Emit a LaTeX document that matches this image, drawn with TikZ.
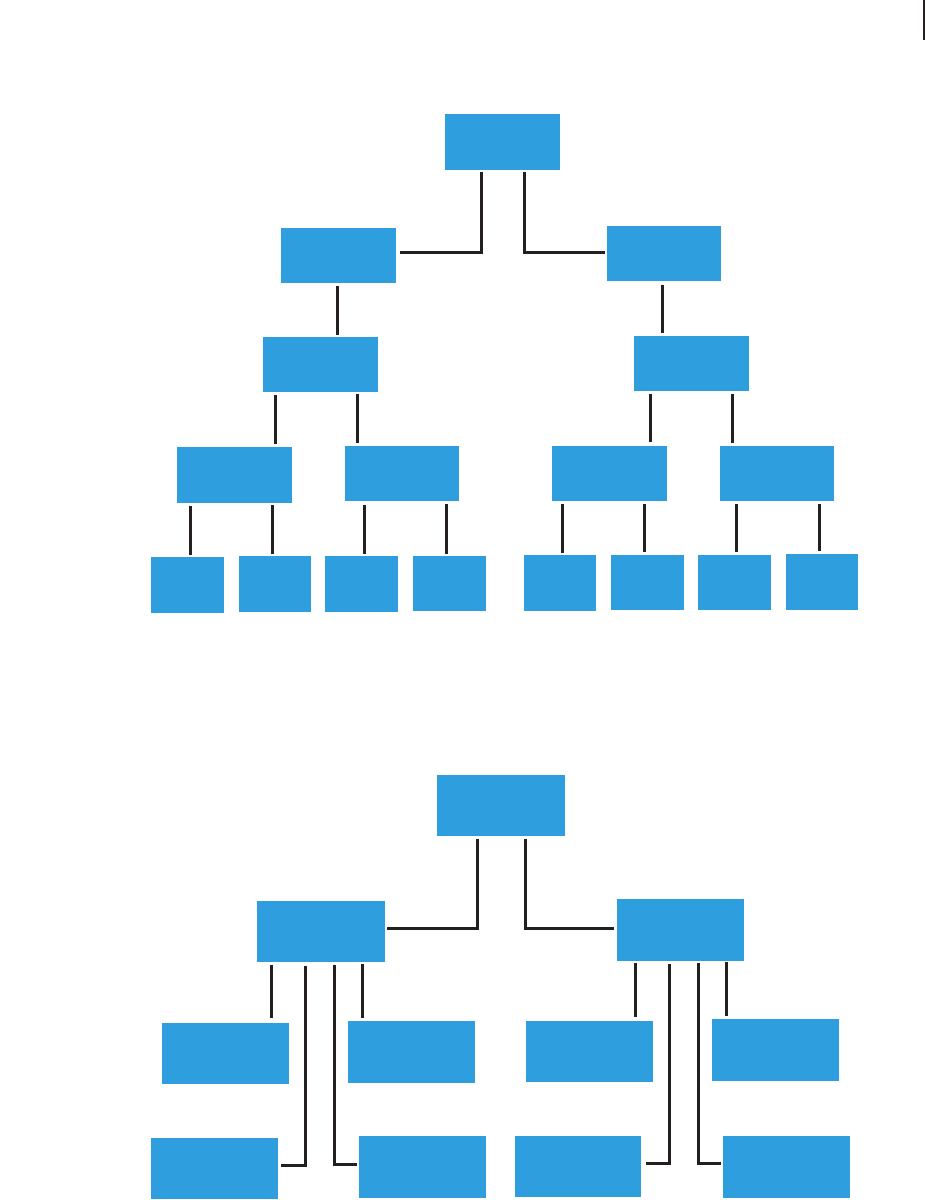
\documentclass[tikz,border=0pt]{standalone}
\usetikzlibrary{calc}
\definecolor{boxblue}{RGB}{46,158,223}
\definecolor{linedark}{RGB}{35,31,32}
\tikzset{
  box/.style={fill=boxblue, draw=none, inner sep=0pt, outer sep=0pt, rectangle},
  conn/.style={draw=linedark, line width=3pt, line cap=butt, line join=miter},
}
\newcommand\bx[5]{\node[box,minimum width=#4pt,minimum height=#5pt] (#1) at (#2,#3) {};}
\begin{document}
\begin{tikzpicture}[x=1pt,y=-1pt]
\useasboundingbox (0,0) rectangle (925,1200);
% top-right edge mark
\coordinate (e1) at (924,0);
\coordinate (e2) at (924,40);
\draw[linedark, line width=1.2pt] (e1) -- (e2);

% ---------- top tree ----------
\bx{T0}{502.5}{142}{115}{56}
\bx{T1L}{338.5}{255.5}{115}{55}
\bx{T1R}{664}{253.5}{114}{55}
\bx{T2L}{320.5}{364.5}{115}{55}
\bx{T2R}{691.5}{363.5}{115}{55}
\bx{T3a}{234.5}{475}{115}{56}
\bx{T3b}{402}{473.5}{114}{55}
\bx{T3c}{609.5}{473.5}{115}{55}
\bx{T3d}{777}{473.5}{114}{55}
\bx{T4a}{187.5}{585}{73}{56}
\bx{T4b}{275}{584}{72}{56}
\bx{T4c}{361.5}{584}{73}{56}
\bx{T4d}{449.5}{583.5}{73}{55}
\bx{T4e}{560}{583}{72}{56}
\bx{T4f}{647.5}{582.5}{73}{55}
\bx{T4g}{734.5}{582.5}{73}{55}
\bx{T4h}{822}{582}{72}{56}

\draw[conn] ($(T0.south west)+(36,2)$) |- ($(T1L.north east)+(4,24)$);
\draw[conn] ($(T0.south west)+(79,2)$) |- ($(T1R.north west)+(-2,26)$);
\draw[conn] ($(T1L.south west)+(56,3)$) -- ($(T2L.north west)+(74,-2)$);
\draw[conn] ($(T1R.south west)+(55,4)$) -- ($(T2R.north west)+(28,-3)$);
\draw[conn] ($(T2L.south west)+(12,3)$) -- ($(T3a.north west)+(98,-3)$);
\draw[conn] ($(T2L.south west)+(94,2)$) -- ($(T3b.north west)+(12,-3)$);
\draw[conn] ($(T2R.south west)+(16,3)$) -- ($(T3c.north west)+(98,-4)$);
\draw[conn] ($(T2R.south west)+(98,3)$) -- ($(T3d.north west)+(12,-3)$);
\draw[conn] ($(T3a.south west)+(13,3)$) -- ($(T4a.north west)+(39,-2)$);
\draw[conn] ($(T3a.south west)+(95,2)$) -- ($(T4b.north west)+(33,-2)$);
\draw[conn] ($(T3b.south west)+(19,4)$) -- ($(T4c.north west)+(39,-2)$);
\draw[conn] ($(T3b.south west)+(101,3)$) -- ($(T4d.north west)+(33,-2)$);
\draw[conn] ($(T3c.south west)+(10,3)$) -- ($(T4e.north west)+(38,-2)$);
\draw[conn] ($(T3c.south west)+(92,3)$) -- ($(T4f.north west)+(33,-3)$);
\draw[conn] ($(T3d.south west)+(16,3)$) -- ($(T4g.north west)+(38,-3)$);
\draw[conn] ($(T3d.south west)+(99,3)$) -- ($(T4h.north west)+(33,-3)$);

% ---------- bottom tree ----------
\bx{B0}{501}{805.5}{128}{61}
\bx{B1L}{321}{931.5}{128}{61}
\bx{B1R}{680.5}{930}{127}{62}
\bx{Ba}{225.5}{1053.5}{127}{61}
\bx{Bb}{411.5}{1052}{127}{62}
\bx{Bc}{214.5}{1168.5}{127}{61}
\bx{Bd}{422.5}{1167}{127}{62}
\bx{Be}{589.5}{1051.5}{127}{61}
\bx{Bf}{775.5}{1050}{127}{62}
\bx{Bg}{578}{1166.5}{126}{61}
\bx{Bh}{786.5}{1167}{127}{62}

\draw[conn] ($(B0.south west)+(40,3)$) |- ($(B1L.north east)+(2,27)$);
\draw[conn] ($(B0.south west)+(88,3)$) |- ($(B1R.north west)+(-3,29)$);
\draw[conn] ($(B1L.south west)+(14,3)$) -- ($(Ba.north west)+(109,-5)$);
\draw[conn] ($(B1L.south west)+(105,2)$) -- ($(Bb.north west)+(14,-3)$);
\draw[conn] ($(B1L.south west)+(48,4)$) |- ($(Bc.north east)+(3,27)$);
\draw[conn] ($(B1L.south west)+(77,3)$) |- ($(Bd.north west)+(-2,28)$);
\draw[conn] ($(B1R.south west)+(18,2)$) -- ($(Be.north west)+(109,-4)$);
\draw[conn] ($(B1R.south west)+(109,1)$) -- ($(Bf.north west)+(14,-3)$);
\draw[conn] ($(B1R.south west)+(52,3)$) |- ($(Bg.north east)+(5,27)$);
\draw[conn] ($(B1R.south west)+(81,2)$) |- ($(Bh.north west)+(-2,27)$);
\end{tikzpicture}
\end{document}
